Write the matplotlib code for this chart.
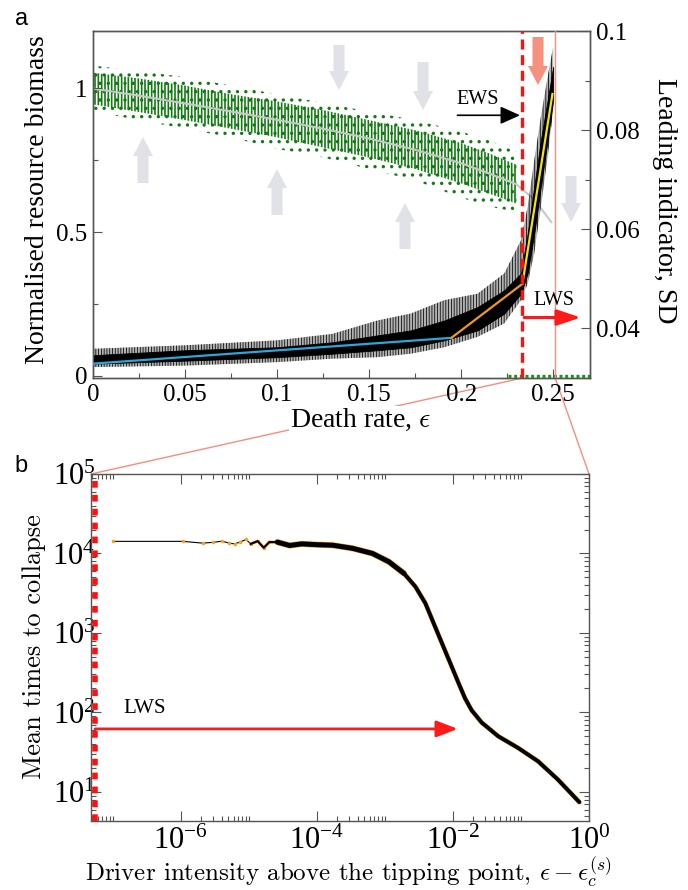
import numpy as np
import matplotlib
matplotlib.use("Agg")
import matplotlib.pyplot as plt
from matplotlib.patches import FancyArrow, ConnectionPatch
from matplotlib.ticker import FixedLocator, FixedFormatter, NullFormatter

plt.rcParams['mathtext.fontset'] = 'cm'
plt.rcParams['font.family'] = ['Liberation Serif', 'DejaVu Serif']
plt.rcParams['hatch.linewidth'] = 1.2

# ---------------- Panel a data ----------------
# green cloud of resource biomass (read envelopes) and its mean (grey)
eps_cloud = [0.0, 0.025, 0.05, 0.075, 0.10, 0.125, 0.15, 0.175, 0.20, 0.215, 0.230]
cloud_core_lo = [0.945, 0.918, 0.890, 0.860, 0.830, 0.795, 0.760, 0.720, 0.670, 0.635, 0.600]
cloud_core_hi = [1.055, 1.035, 1.010, 0.980, 0.955, 0.925, 0.890, 0.855, 0.810, 0.775, 0.735]
cloud_out_lo = [0.920, 0.890, 0.860, 0.830, 0.790, 0.760, 0.720, 0.680, 0.620, 0.590, 0.570]
cloud_out_hi = [1.080, 1.060, 1.040, 1.010, 0.980, 0.950, 0.920, 0.890, 0.850, 0.820, 0.780]

eps_mean = [0.0, 0.025, 0.05, 0.075, 0.10, 0.125, 0.15, 0.175, 0.20, 0.215, 0.23, 0.24, 0.249]
biomass_mean = [1.0, 0.975, 0.948, 0.920, 0.891, 0.860, 0.826, 0.787, 0.740, 0.705, 0.667, 0.612, 0.535]

eps_zero = [0.2252, 0.27]
biomass_zero = [0.0, 0.0]

# leading indicator SD (read envelopes)
eps_sd = [0.0, 0.05, 0.10, 0.13, 0.1545, 0.1726, 0.1908, 0.2089, 0.2234, 0.2325,
          0.2361, 0.2397, 0.2433, 0.2470, 0.2500]
sd_core_lo = [0.0329, 0.0335, 0.0342, 0.0349, 0.0356, 0.0362, 0.0376, 0.0396, 0.0430,
              0.0470, 0.0511, 0.0591, 0.0686, 0.0780, 0.0861]
sd_core_hi = [0.0346, 0.0356, 0.0362, 0.0372, 0.0386, 0.0396, 0.0416, 0.0443, 0.0477,
              0.0511, 0.0591, 0.0686, 0.0780, 0.0861, 0.0928]
sd_spike_lo = [0.0322, 0.0325, 0.0332, 0.0339, 0.0342, 0.0349, 0.0362, 0.0383, 0.0410,
               0.0457, 0.0490, 0.0551, 0.0645, 0.0746, 0.0840]
sd_spike_hi = [0.0359, 0.0366, 0.0376, 0.0389, 0.0416, 0.0430, 0.0457, 0.0470, 0.0511,
               0.0578, 0.0645, 0.0739, 0.0827, 0.0908, 0.0968]

# piecewise fits
fit1_eps, fit1_sd = [0.0, 0.1947], [0.0329, 0.0381]
fit2_eps, fit2_sd = [0.1947, 0.2333], [0.0381, 0.0490]
fit3_eps, fit3_sd = [0.2333, 0.2496], [0.0490, 0.0873]

eps_tipping = 0.2333
eps_zoom_end = 0.2511

# ---------------- Panel b data ----------------
drive = [1.0e-7, 1.07e-6, 2.09e-6, 3.02e-6, 4.07e-6, 5.13e-6, 6.17e-6, 7.41e-6, 9.12e-6,
         1.07e-5, 1.35e-5, 1.66e-5, 2.0e-5, 2.63e-5, 3.98e-5, 6.0e-5, 1.0e-4, 1.71e-4,
         3.36e-4, 6.58e-4, 1.15e-3, 1.91e-3, 2.82e-3, 3.94e-3, 5.22e-3, 6.90e-3, 9.14e-3,
         1.21e-2, 1.51e-2, 1.89e-2, 2.65e-2, 4.65e-2, 9.10e-2, 0.178, 0.349, 0.721]
tcollapse = [1.42e4, 1.42e4, 1.35e4, 1.38e4, 1.43e4, 1.35e4, 1.32e4, 1.39e4, 1.50e4,
             1.32e4, 1.43e4, 1.18e4, 1.39e4, 1.39e4, 1.26e4, 1.32e4, 1.29e4, 1.27e4,
             1.16e4, 1.0e4, 7.85e3, 5.61e3, 3.81e3, 2.36e3, 1.32e3, 743, 417,
             234, 150, 106, 74.5, 50.0, 35.7, 24.3, 14.3, 7.43]
sparse_end = 9     # points up to here are individually visible
noisy_start = 13   # from here the noisy (thick) band starts
noisy_end = 21     # the noisy band ends here

lws_time = 62.0
lws_end = 1.18e-2

xt_a = [0, 0.05, 0.10, 0.15, 0.20, 0.25]
xt_a_lab = ['0', '0.05', '0.1', '0.15', '0.2', '0.25']
yt_a = [0, 0.5, 1.0]
yt_a_lab = ['0', '0.5', '1']
yt_sd = [0.04, 0.06, 0.08, 0.10]
yt_sd_lab = ['0.04', '0.06', '0.08', '0.1']

# ---------------- Figure ----------------
W, H = 688, 890
fig = plt.figure(figsize=(W / 100, H / 100), dpi=100)

def fr(l, t, r, b):
    return [l / W, 1 - b / H, (r - l) / W, (b - t) / H]

axa = fig.add_axes(fr(93, 31, 590, 378))
axa.set_facecolor('none')
axs = axa.twinx()
axb = fig.add_axes(fr(91, 474, 589, 821))

spine_col = '#555555'
GREEN = '#137a13'
ORANGE = '#f5a31a'

# background fat arrows (pixel positions of reference)
def fat_arrow(ax, cx, y0, y1, color):
    x = (cx - 93) / 497
    ya = (378 - y0) / 347
    yb = (378 - y1) / 347
    ar = FancyArrow(x, ya, 0, yb - ya, width=11 / 497, head_width=20 / 497,
                    head_length=19 / 347, length_includes_head=True,
                    transform=ax.transAxes, color=color, lw=0, zorder=0.5)
    ax.add_patch(ar)

for cx, y0, y1 in [(339, 45, 90), (423, 62, 110), (571, 176, 222),
                   (143, 183, 137), (277, 215, 169), (405, 249, 203)]:
    fat_arrow(axa, cx, y0, y1, '#e1e1e8')
fat_arrow(axa, 538, 37, 85, '#f7917f')

# green cloud
axa.fill_between(eps_cloud, cloud_out_lo, cloud_out_hi, facecolor='none',
                 edgecolor=GREEN, hatch='..', linewidth=0, zorder=1)
axa.fill_between(eps_cloud, cloud_core_lo, cloud_core_hi, facecolor='none',
                 edgecolor=GREEN, hatch='|||||', linewidth=0, zorder=1.1)
axa.plot(eps_mean, biomass_mean, color='#c8c8c8', lw=1.5, zorder=1.5)
axa.plot(eps_zero, biomass_zero, color='#1a961a', lw=2.4, dashes=(0.9, 0.8),
         clip_on=False, zorder=3)

axa.set_xlim(0, 0.27)
axa.set_ylim(-0.007, 1.2)
axs.set_ylim(0.03, 0.10)

# SD trace
fringe = axs.fill_between(eps_sd, sd_spike_lo, sd_spike_hi, facecolor=(0, 0, 0, 0.3),
                          edgecolor='black', hatch='||||||', linewidth=0, zorder=2)
try:
    fringe.set_hatch_linewidth(0.55)
except AttributeError:
    fringe.set_hatch(None)
    fringe.set_facecolor((0, 0, 0, 0.6))
axs.fill_between(eps_sd, sd_core_lo, sd_core_hi, color='black', lw=0.6, zorder=2.1)
axs.plot(fit1_eps, fit1_sd, color='#29a8dc', lw=1.6, zorder=3)
axs.plot(fit2_eps, fit2_sd, color='#f09a1c', lw=1.6, zorder=3)
axs.plot(fit3_eps, fit3_sd, color='#f5e20a', lw=1.6, zorder=3)

axs.axvline(eps_tipping, color='#ff1010', lw=2.4, dashes=(3.0, 1.7), zorder=5)
axs.axvline(eps_zoom_end, color='#fa8c7d', lw=1.0, zorder=4)

axs.annotate('', xy=(0.2320, 0.0830), xytext=(0.1980, 0.0830),
             arrowprops=dict(arrowstyle='-|>,head_length=0.6,head_width=0.27',
                             color='black', lw=1.2, mutation_scale=20,
                             shrinkA=0, shrinkB=0), zorder=6)
axs.text(0.2090, 0.0861, 'EWS', ha='center', va='center', fontsize=14.5, zorder=6)
axs.annotate('', xy=(0.2650, 0.0422), xytext=(0.2342, 0.0422),
             arrowprops=dict(arrowstyle='-|>,head_length=0.72,head_width=0.24',
                             color='#ff1a1a', lw=2.2, mutation_scale=20,
                             shrinkA=0, shrinkB=0), zorder=6)
axs.text(0.2505, 0.0457, 'LWS', ha='center', va='center', fontsize=14.5, zorder=6)

# ticks panel a
axa.xaxis.set_major_locator(FixedLocator(xt_a))
axa.xaxis.set_major_formatter(FixedFormatter(xt_a_lab))
axa.xaxis.set_minor_locator(FixedLocator([0.025, 0.075, 0.125, 0.175, 0.225]))
axa.yaxis.set_major_locator(FixedLocator(yt_a))
axa.yaxis.set_major_formatter(FixedFormatter(yt_a_lab))
axa.yaxis.set_minor_locator(FixedLocator([0.25, 0.75]))
axs.yaxis.set_major_locator(FixedLocator(yt_sd))
axs.yaxis.set_major_formatter(FixedFormatter(yt_sd_lab))
axs.yaxis.set_minor_locator(FixedLocator([0.05, 0.07, 0.09]))

for ax in (axa, axs):
    ax.tick_params(which='both', direction='in', color=spine_col, width=0.8,
                   labelsize=18, pad=4)
    ax.tick_params(which='major', length=6.5)
    ax.tick_params(which='minor', length=3.8)
    for s in ax.spines.values():
        s.set_color(spine_col)
        s.set_linewidth(1.0)
axa.tick_params(top=False, right=False)

xl = axa.set_xlabel(r'Death rate, $\epsilon$', fontsize=20, va='center',
                    bbox=dict(facecolor='white', edgecolor='none', pad=1))
axa.xaxis.set_label_coords(0.539, -0.121)
axa.set_ylabel('Normalised resource biomass', fontsize=20, va='center')
axa.yaxis.set_label_coords(-0.112, 0.513)
axs.set_ylabel('Leading indicator, SD', fontsize=20, va='center', rotation=-90)
axs.yaxis.set_label_coords(1.149, 0.51)

# ---------------- Panel b ----------------
axb.set_xscale('log')
axb.set_yscale('log')
axb.set_xlim(4.8e-8, 1.0)
axb.set_ylim(4.3, 1e5)

a0, a1, a2 = sparse_end, noisy_start, noisy_end
axb.plot(drive[:a1 + 1], tcollapse[:a1 + 1], color='black', lw=0.8, zorder=2)
axb.plot(drive[:a1 + 1], tcollapse[:a1 + 1], 'o', color=ORANGE, ms=2.6, mew=0, zorder=3)
axb.plot(drive[a0:a1 + 1], tcollapse[a0:a1 + 1], color=ORANGE, lw=2.2, zorder=2)
axb.plot(drive[a0:a1 + 1], tcollapse[a0:a1 + 1], color='black', lw=1.5, zorder=3)
axb.plot(drive[a1:a2 + 1], tcollapse[a1:a2 + 1], color=ORANGE, lw=4.4,
         solid_capstyle='round', zorder=2)
axb.plot(drive[a1:a2 + 1], tcollapse[a1:a2 + 1], color='black', lw=3.6,
         solid_capstyle='round', zorder=3)
axb.plot(drive[a2:], tcollapse[a2:], color=ORANGE, lw=3.4, solid_capstyle='round',
         solid_joinstyle='round', zorder=2)
axb.plot(drive[a2:], tcollapse[a2:], color='black', lw=2.8, solid_capstyle='round',
         solid_joinstyle='round', zorder=3)

axb.plot([0.008, 0.008], [0, 1], transform=axb.transAxes, color='#ff1010', lw=4.0,
         dashes=(1.2, 1.3), clip_on=False, zorder=5, solid_capstyle='butt')
axb.annotate('', xy=(lws_end, lws_time), xycoords='data',
             xytext=(0.008, lws_time), textcoords=('axes fraction', 'data'),
             arrowprops=dict(arrowstyle='-|>,head_length=0.65,head_width=0.25',
                             color='#ff1a1a', lw=2.0, mutation_scale=20,
                             shrinkA=0, shrinkB=0), zorder=6)
axb.text(2.95e-7, 111, 'LWS', ha='center', va='center', fontsize=15, zorder=6)

xmaj = [1e-6, 1e-4, 1e-2, 1e0]
xmaj_lab = [r'$\mathregular{10^{-6}}$', r'$\mathregular{10^{-4}}$',
            r'$\mathregular{10^{-2}}$', r'$\mathregular{10^{0}}$']
xmin = [k * 10.0 ** e for e in (-8, -6, -4, -2) for k in range(2, 11)]
axb.xaxis.set_major_locator(FixedLocator(xmaj))
axb.xaxis.set_major_formatter(FixedFormatter(xmaj_lab))
axb.xaxis.set_minor_locator(FixedLocator(xmin))
axb.xaxis.set_minor_formatter(NullFormatter())
ymaj = [1e1, 1e2, 1e3, 1e4, 1e5]
ymaj_lab = [r'$\mathregular{10^{%d}}$' % k for k in range(1, 6)]
ymin = [k * 10.0 ** e for e in range(0, 5) for k in range(2, 10)]
axb.yaxis.set_major_locator(FixedLocator(ymaj))
axb.yaxis.set_major_formatter(FixedFormatter(ymaj_lab))
axb.yaxis.set_minor_locator(FixedLocator(ymin))
axb.yaxis.set_minor_formatter(NullFormatter())
axb.tick_params(which='both', direction='in', top=True, right=True, color=spine_col,
                width=0.8, labelsize=22)
axb.tick_params(axis='x', which='both', pad=4)
axb.tick_params(axis='y', which='both', pad=-3)
axb.tick_params(which='major', length=7)
axb.tick_params(which='minor', length=3.8)
for s in axb.spines.values():
    s.set_color(spine_col)
    s.set_linewidth(1.0)

axb.set_xlabel(r'Driver intensity above the tipping point, $\epsilon - \epsilon_c^{(s)}$',
               fontsize=18, family='cmr10', va='baseline')
axb.xaxis.set_label_coords(0.516, -0.172)
axb.set_ylabel('Mean times to collapse', fontsize=19, family='cmr10', va='center')
axb.yaxis.set_label_coords(-0.115, 0.504)

# zoom connection lines
for xa, xb in [(eps_tipping, 0.0), (eps_zoom_end, 1.0)]:
    cp = ConnectionPatch(xyA=(xa, 0), coordsA=axa.get_xaxis_transform(),
                         xyB=(xb, 1), coordsB=axb.transAxes,
                         color='#fa8c7d', lw=1.0, zorder=-1)
    fig.add_artist(cp)

fig.text(22 / W, 1 - 19 / H, 'a', family='Liberation Sans', fontsize=17,
         ha='center', va='center')
fig.text(21 / W, 1 - 466 / H, 'b', family='Liberation Sans', fontsize=17,
         ha='center', va='center')

fig.savefig('out.png', dpi=100)
